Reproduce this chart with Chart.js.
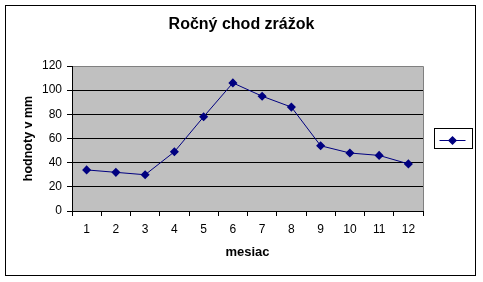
<!DOCTYPE html>
<html>
<head>
<meta charset="utf-8">
<script src="https://cdn.jsdelivr.net/npm/chart.js@4/dist/chart.umd.min.js"></script>
<style>
  html, body { margin: 0; padding: 0; background: #ffffff; }
  #wrap { width: 483px; height: 282px; position: relative; }
</style>
</head>
<body>
<div id="wrap"><canvas id="c" width="483" height="282"></canvas></div>
<script>
const chartTitle = 'Ročný chod zrážok';
const xTitle = 'mesiac';
const yTitle = 'hodnoty v mm';
const months = ['1', '2', '3', '4', '5', '6', '7', '8', '9', '10', '11', '12'];
const precipitation = [34, 32, 30, 49, 78, 106, 95, 86, 54, 48, 46, 39];
const yMin = 0, yMax = 120, yStep = 20;

const FONT = '"Liberation Sans", Arial, sans-serif';
const NAVY = '#000080';

const framePlugin = {
  id: 'frame',
  beforeDraw(chart) {
    const { ctx, chartArea: a } = chart;
    ctx.save();
    ctx.fillStyle = '#ffffff';
    ctx.fillRect(0, 0, chart.width, chart.height);
    ctx.fillStyle = '#C0C0C0';
    ctx.fillRect(a.left, a.top, a.right - a.left, a.bottom - a.top);
    ctx.strokeStyle = '#808080';
    ctx.lineWidth = 1;
    ctx.beginPath();
    ctx.moveTo(a.left, a.top + 0.5);
    ctx.lineTo(a.right + 0.5, a.top + 0.5);
    ctx.lineTo(a.right + 0.5, a.bottom);
    ctx.stroke();
    ctx.restore();
  },
  afterDraw(chart) {
    const { ctx } = chart;
    ctx.save();
    ctx.strokeStyle = '#000000';
    ctx.lineWidth = 1;
    ctx.strokeRect(5.5, 5.5, 470, 270);
    const bx = 434.5, by = 128.5, bw = 38, bh = 20;
    ctx.strokeRect(bx, by, bw, bh);
    const ds = chart.data.datasets[0];
    const cy = by + bh / 2 + 2;
    ctx.strokeStyle = ds.borderColor;
    ctx.lineWidth = 1;
    ctx.beginPath();
    ctx.moveTo(bx + 5, cy);
    ctx.lineTo(bx + bw - 7, cy);
    ctx.stroke();
    ctx.fillStyle = ds.pointBackgroundColor;
    ctx.strokeStyle = ds.pointBorderColor;
    ctx.lineWidth = ds.pointBorderWidth;
    Chart.helpers.drawPoint(ctx, {
      pointStyle: ds.pointStyle,
      radius: ds.pointRadius,
      borderWidth: ds.pointBorderWidth,
      rotation: 0
    }, bx + 18, cy);
    ctx.restore();
  }
};

new Chart(document.getElementById('c'), {
  type: 'line',
  data: {
    labels: months,
    datasets: [{
      data: precipitation,
      borderColor: NAVY,
      borderWidth: 1,
      backgroundColor: NAVY,
      pointStyle: 'rectRot',
      pointRadius: 3.5,
      pointBorderWidth: 1.5,
      pointBackgroundColor: NAVY,
      pointBorderColor: NAVY,
      pointHoverRadius: 3.5,
      tension: 0,
      fill: false
    }]
  },
  options: {
    responsive: false,
    animation: false,
    devicePixelRatio: 1,
    layout: { padding: { left: 6, right: 6, top: 6, bottom: 8 } },
    plugins: {
      legend: { display: false },
      tooltip: { enabled: false },
      title: {
        display: true,
        text: chartTitle,
        color: '#000000',
        font: { family: FONT, size: 16, weight: 'bold' },
        padding: { top: 9, bottom: 31.8 }
      }
    },
    scales: {
      x: {
        type: 'category',
        offset: true,
        afterFit(scale) { scale.height = 63; },
        grid: {
          display: true,
          offset: true,
          drawOnChartArea: false,
          drawTicks: true,
          tickLength: 5,
          color: '#000000',
          tickColor: '#000000'
        },
        border: { display: true, color: '#000000', width: 1 },
        ticks: {
          color: '#000000',
          font: { family: FONT, size: 12 },
          padding: 6,
          maxRotation: 0,
          autoSkip: false
        },
        title: {
          display: true,
          text: xTitle,
          color: '#000000',
          font: { family: FONT, size: 13, weight: 'bold' },
          padding: { top: 0, bottom: 13.4 }
        }
      },
      y: {
        min: yMin,
        max: yMax,
        afterFit(scale) { scale.width = 66; },
        grid: {
          display: true,
          drawOnChartArea: true,
          drawTicks: true,
          tickLength: 5,
          color: (c) => (c.tick && c.tick.value === yMax) ? '#808080' : '#000000',
          tickColor: '#000000'
        },
        border: { display: true, color: '#000000', width: 1 },
        ticks: {
          stepSize: yStep,
          color: '#000000',
          font: { family: FONT, size: 12 },
          padding: 5
        },
        title: {
          display: true,
          text: yTitle,
          color: '#000000',
          font: { family: FONT, size: 12.5, weight: 'bold' },
          padding: { top: 15.5, bottom: 0 }
        }
      },
      legendSpace: {
        type: 'linear',
        position: 'right',
        display: true,
        afterFit(scale) { scale.width = 54; },
        grid: { display: false, drawTicks: false },
        border: { display: false },
        ticks: { display: false },
        title: { display: false }
      }
    }
  },
  plugins: [framePlugin]
});
</script>
</body>
</html>
